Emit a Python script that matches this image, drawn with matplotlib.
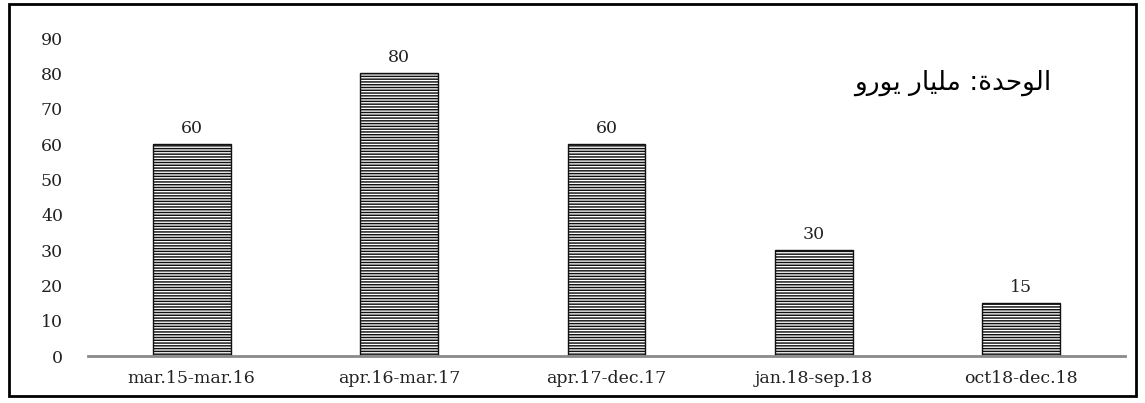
import matplotlib.pyplot as plt
from matplotlib.patches import Rectangle
import numpy as np

periods = ["mar.15-mar.16", "apr.16-mar.17", "apr.17-dec.17", "jan.18-sep.18", "oct18-dec.18"]
amounts = [60, 80, 60, 30, 15]
y_ticks = [0, 10, 20, 30, 40, 50, 60, 70, 80, 90]

# "الوحدة: مليار يورو" in Arabic presentation forms, logical order
unit_logical = ("\uFE8D\uFEDF\uFEEE\uFEA3\uFEAA\uFE93:"
                " \uFEE3\uFEE0\uFEF4\uFE8E\uFEAD"
                " \uFEF3\uFEEE\uFEAD\uFEED")
unit_label = unit_logical[::-1]

plt.rcParams["hatch.linewidth"] = 1.05
plt.rcParams["font.family"] = ["DejaVu Serif"]

fig = plt.figure(figsize=(11.45, 4.03), dpi=100)
fig.patch.set_facecolor("white")
ax = fig.add_axes([0.0769, 0.1166, 0.9056, 0.7891])

x = np.arange(len(periods))
bars = ax.bar(x, amounts, width=0.375, color="white", edgecolor="#111111",
              linewidth=1.0, hatch="------", zorder=2)

for bar, val in zip(bars, amounts):
    ax.text(bar.get_x() + bar.get_width() / 2, val + 2.0, str(val),
            ha="center", va="bottom", fontsize=12.5, color="#222222")

ax.set_xlim(-0.5, len(periods) - 0.5)
ax.set_ylim(0, 90)
ax.set_yticks(y_ticks)
ax.set_xticks(x)
ax.set_xticklabels(periods, fontsize=12.5, color="#222222")
ax.tick_params(axis="y", length=0, pad=18, labelsize=12.5, labelcolor="#222222")
ax.tick_params(axis="x", length=0, pad=10)
for side in ["top", "right", "left"]:
    ax.spines[side].set_visible(False)
ax.spines["bottom"].set_color("#8a8a8a")
ax.spines["bottom"].set_linewidth(2)

fig.text(0.8325, 0.795, unit_label, family="DejaVu Sans", fontsize=19,
         ha="center", va="center", color="black")

# outer frame around the chart
fig.patches.append(Rectangle((0.008, 0.018), 0.984, 0.972, transform=fig.transFigure,
                             fill=False, edgecolor="black", linewidth=2))

fig.savefig("out.png", dpi=100)
